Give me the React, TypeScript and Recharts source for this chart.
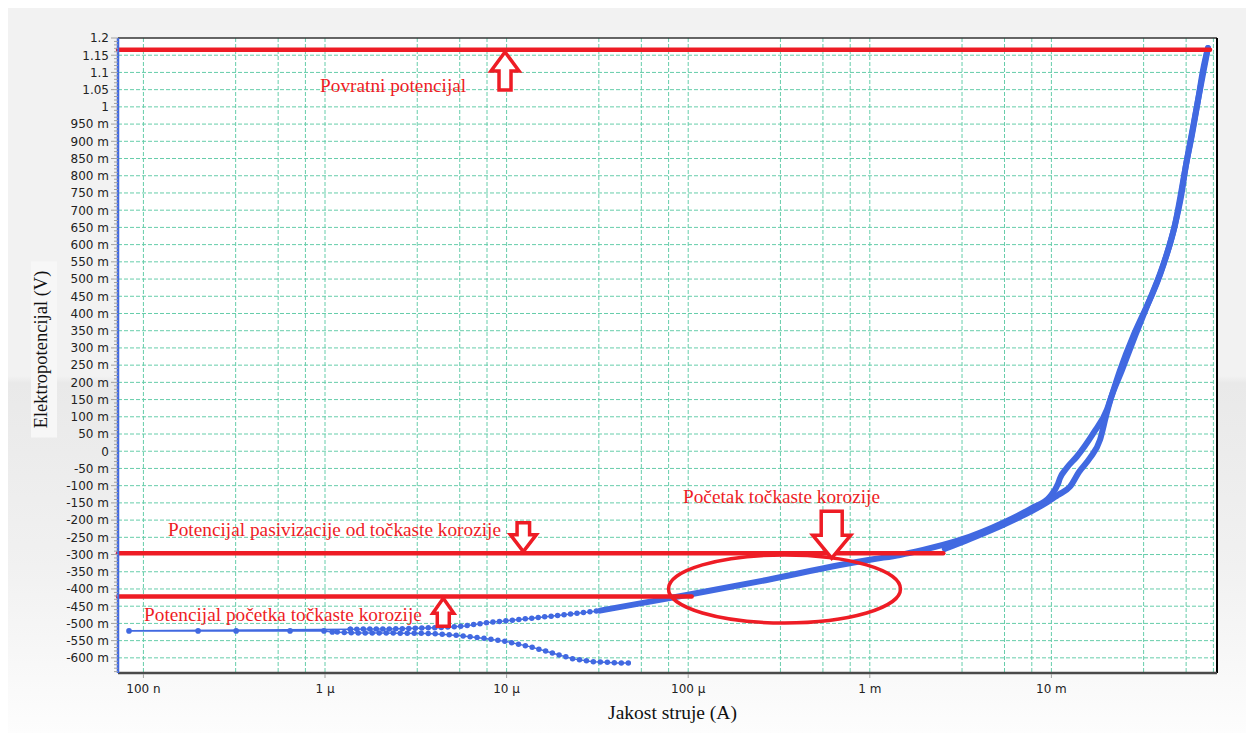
import React from 'react';
import { LineChart, Line, XAxis, YAxis, CartesianGrid, ReferenceLine, ReferenceDot } from 'recharts';

// ---------- axes ----------
const X_MIN = 7.245e-8;
const X_MAX = 8.165e-2;
const Y_MIN = -0.644;
const Y_MAX = 1.2;

const xMajorTicks = [1e-7, 1e-6, 1e-5, 1e-4, 1e-3, 1e-2];
const xTickLabels = ['100 n', '1 µ', '10 µ', '100 µ', '1 m', '10 m'];
const xMinorFactors = [3.22, 5.52, 7.8];

const yMajorTicks = [
  -0.6, -0.55, -0.5, -0.45, -0.4, -0.35, -0.3, -0.25, -0.2, -0.15, -0.1, -0.05, 0,
  0.05, 0.1, 0.15, 0.2, 0.25, 0.3, 0.35, 0.4, 0.45, 0.5, 0.55, 0.6, 0.65, 0.7, 0.75,
  0.8, 0.85, 0.9, 0.95, 1, 1.05, 1.1, 1.15, 1.2,
];
const yTickLabels = [
  '-600 m', '-550 m', '-500 m', '-450 m', '-400 m', '-350 m', '-300 m', '-250 m', '-200 m',
  '-150 m', '-100 m', '-50 m', '0', '50 m', '100 m', '150 m', '200 m', '250 m', '300 m',
  '350 m', '400 m', '450 m', '500 m', '550 m', '600 m', '650 m', '700 m', '750 m', '800 m',
  '850 m', '900 m', '950 m', '1', '1.05', '1.1', '1.15', '1.2',
];

// ---------- series (current A, potential V) ----------
// cathodic branch, scan order (from start potential towards Ecorr)
const cathodicBranch: [number, number][] = [
  [4.68e-5, -0.6148], [4.07e-5, -0.6148], [3.68e-5, -0.6133], [3.27e-5, -0.6118],
  [2.99e-5, -0.611], [2.32e-5, -0.603], [1.8e-5, -0.5866], [1.345e-5, -0.5674],
  [1.0e-5, -0.5529], [7.6e-6, -0.5436], [5.75e-6, -0.5364], [4.58e-6, -0.532],
  [3.64e-6, -0.529], [2.66e-6, -0.5285], [1.885e-6, -0.5276], [1.51e-6, -0.5276],
  [1.097e-6, -0.5247],
];
// points around the corrosion potential (scan continues from the cathodic end to the anodic start)
const ecorrPoints: [number, number][] = [
  [1.097e-6, -0.5247], [9.87e-7, -0.5218], [6.42e-7, -0.5218], [3.24e-7, -0.5218],
  [2.0e-7, -0.5218], [8.33e-8, -0.5218], [1.378e-6, -0.517],
];
// start of anodic branch
const anodicLow: [number, number][] = [
  [1.378e-6, -0.517], [1.79e-6, -0.5163], [2.27e-6, -0.5163], [2.86e-6, -0.5148],
  [3.55e-6, -0.5131], [4.46e-6, -0.5116], [5.9e-6, -0.5073], [7.77e-6, -0.4977],
  [1.185e-5, -0.4884], [1.8e-5, -0.4783], [3.27e-5, -0.4629],
];
// forward anodic scan up to the reverse potential
const forwardScan: [number, number][] = [
  [3.27e-5, -0.4629], [6.16e-5, -0.4368], [9.81e-5, -0.4173], [2.71e-4, -0.3738],
  [6.85e-4, -0.3302], [1.041e-3, -0.3136], [1.466e-3, -0.3012], [1.963e-3, -0.2866],
  [3.14e-3, -0.2576], [5.43e-3, -0.2074], [7.77e-3, -0.1656], [9.82e-3, -0.1319],
  [1.087e-2, -0.095], [1.115e-2, -0.0785], [1.214e-2, -0.0486], [1.378e-2, -0.016],
  [1.7e-2, 0.052], [2.02e-2, 0.12], [2.1e-2, 0.146], [2.39e-2, 0.236], [2.81e-2, 0.332],
  [3.28e-2, 0.41], [3.58e-2, 0.454], [3.96e-2, 0.512], [4.39e-2, 0.584], [4.79e-2, 0.657],
  [5.17e-2, 0.738], [5.51e-2, 0.831], [5.94e-2, 0.918], [6.42e-2, 1.02], [6.84e-2, 1.107],
  [7.28e-2, 1.171],
];
// reverse scan
const reverseScan: [number, number][] = [
  [7.28e-2, 1.171], [6.42e-2, 1.02], [5.51e-2, 0.831], [4.79e-2, 0.657], [4.07e-2, 0.532],
  [3.4e-2, 0.4276], [2.89e-2, 0.3347], [2.45e-2, 0.236], [2.1e-2, 0.144], [2.0e-2, 0.1024],
  [1.852e-2, 0.0328], [1.632e-2, -0.0195], [1.419e-2, -0.0602], [1.266e-2, -0.1029],
  [1.087e-2, -0.1269], [9.34e-3, -0.1502], [7.62e-3, -0.1763], [5.41e-3, -0.2141],
  [3.56e-3, -0.2547], [2.59e-3, -0.2837],
];

// ---------- annotations ----------
const redLines = [
  { x1: X_MIN, x2: 7.47e-2, y: 1.166 },
  { x1: X_MIN, x2: 2.54e-3, y: -0.2962 },
  { x1: X_MIN, x2: 1.045e-4, y: -0.4222 },
];
const arrows = [
  { x: 9.8e-6, y: 1.1593, dir: 'up', headW: 28, headH: 19, shaftW: 12, len: 38 },
  { x: 1.236e-5, y: -0.2916, dir: 'down', headW: 26, headH: 17, shaftW: 12.5, len: 29 },
  { x: 6.17e-4, y: -0.3107, dir: 'down', headW: 38, headH: 23, shaftW: 21, len: 47 },
  { x: 4.48e-6, y: -0.4269, dir: 'up', headW: 21, headH: 15, shaftW: 12, len: 28 },
];
const ellipseCenter = { x: 3.39e-4, y: -0.4 };
const notes = [
  { x: 9.39e-7, y: 1.0432, text: 'Povratni potencijal' },
  { x: 1.366e-7, y: -0.246, text: 'Potencijal pasivizacije od točkaste korozije' },
  { x: 9.36e-5, y: -0.1493, text: 'Početak točkaste korozije' },
  { x: 1.008e-7, y: -0.492, text: 'Potencijal početka točkaste korozije' },
];

// ---------- helpers ----------
const toRows = (arr: [number, number][]) => arr.map(([i, v]) => ({ i, v }));
const BLUE = '#4169e1';
const RED = '#ee1c25';
const GRID = '#66cdaa';
const SERIF = 'Liberation Serif, Times New Roman, serif';
const SANS = 'DejaVu Sans, Verdana, sans-serif';

const xGridValues: number[] = [];
xMajorTicks.forEach((m) => {
  xGridValues.push(m);
  xMinorFactors.forEach((f) => {
    const v = m * f;
    if (v < X_MAX) xGridValues.push(v);
  });
});
const yGridValues = yMajorTicks.filter((v) => v < Y_MAX);
const yAllTicks: number[] = [];
for (let k = -64; k <= 120; k++) yAllTicks.push(k / 100);
const yLabelFor = (v: number) => {
  const idx = yMajorTicks.findIndex((m) => Math.abs(m - v) < 1e-6);
  return idx >= 0 ? yTickLabels[idx] : null;
};

const YTick = (props: any) => {
  const { x, y, payload } = props;
  const label = yLabelFor(payload.value);
  return (
    <g>
      <line x1={x - (label ? 7 : 4)} x2={x} y1={y} y2={y} stroke="#a0a0a0" strokeWidth={1} />
      {label && (
        <text x={x - 9} y={y} dy="0.36em" textAnchor="end" fontSize={12}
          fontFamily={SANS} fill="#222">{label}</text>
      )}
    </g>
  );
};
const XTick = (props: any) => {
  const { x, y, payload } = props;
  const idx = xMajorTicks.findIndex((m) => Math.abs(m - payload.value) / m < 1e-6);
  return (
    <g>
      <line x1={x} x2={x} y1={y + 1} y2={y + 5} stroke="#a0a0a0" strokeWidth={1} />
      <text x={x} y={y + 20} textAnchor="middle" fontSize={12}
        fontFamily={SANS} fill="#222">{xTickLabels[idx]}</text>
    </g>
  );
};

const arrowShape = (a: typeof arrows[number]) => (p: any) => {
  const { cx, cy } = p;
  const s = a.dir === 'up' ? 1 : -1;
  const hb = cy + s * a.headH;
  const end = cy + s * a.len;
  const pts = [
    [cx, cy], [cx + a.headW / 2, hb], [cx + a.shaftW / 2, hb], [cx + a.shaftW / 2, end],
    [cx - a.shaftW / 2, end], [cx - a.shaftW / 2, hb], [cx - a.headW / 2, hb],
  ].map((q) => q.join(',')).join(' ');
  return <polygon points={pts} fill="#fff" stroke={RED} strokeWidth={3.5} strokeLinejoin="miter" />;
};

export default function App() {
  return (
    <div style={{
      width: 1246, height: 725,
      background: 'linear-gradient(#f2f2f2 0px, #f2f2f2 368px, #e9e9e9 375px, #f1f1f1 560px, #fdfdfd 725px)',
    }}>
      <LineChart width={1246} height={725} margin={{ top: 30, right: 37, bottom: 30, left: 50 }}>
        <CartesianGrid
          fill="#ffffff"
          stroke={GRID}
          strokeDasharray="4 2"
          horizontalValues={yGridValues}
          verticalValues={xGridValues}
        />
        <XAxis
          dataKey="i" type="number" scale="log" domain={[X_MIN, X_MAX]} allowDataOverflow
          ticks={xMajorTicks} interval={0} tickSize={0} tickMargin={0} height={30}
          tick={<XTick />} axisLine={{ stroke: '#4a4a4a', strokeWidth: 2.5 }} tickLine={false}
          label={{
            content: (lp: any) => {
              const vb = lp.viewBox;
              return (
                <text x={vb.x + vb.width / 2 + 5} y={vb.y + 46} textAnchor="middle" fontSize={19.5}
                  fontFamily={SERIF} fill="#111">Jakost struje (A)</text>
              );
            },
          }}
        />
        <YAxis
          dataKey="v" type="number" domain={[Y_MIN, Y_MAX]} allowDataOverflow width={60}
          ticks={yAllTicks} interval={0} tickSize={0} tickMargin={0}
          tick={<YTick />} axisLine={{ stroke: BLUE, strokeWidth: 2.5 }} tickLine={false}
          label={{
            content: (lp: any) => {
              const vb = lp.viewBox;
              const cx = vb.x - 11;
              const cy = vb.y + vb.height / 2 - 6;
              return (
                <g>
                  <rect x={cx - 16} y={cy - 88} width={26} height={176} fill="#f7f7f7" />
                  <text x={cx} y={cy} transform={`rotate(-90 ${cx} ${cy})`} textAnchor="middle"
                    fontSize={18.5} fontFamily={SERIF} fill="#111">
                    Elektropotencijal (V)
                  </text>
                </g>
              );
            },
          }}
        />

        <ReferenceLine y={Y_MAX} stroke="#333" strokeWidth={1.5} />
        <ReferenceLine x={X_MAX} stroke="#000" strokeWidth={2} />

        <Line name="ecorr" data={toRows(ecorrPoints)} dataKey="v" stroke={BLUE} strokeWidth={1.6}
          dot={{ r: 2.8, fill: BLUE, stroke: BLUE, strokeWidth: 0 }} isAnimationActive={false} />
        <Line name="cathodic-line" data={toRows(cathodicBranch)} dataKey="v" stroke={BLUE} strokeWidth={1.5}
          dot={false} isAnimationActive={false} />
        <Line name="cathodic-dots" data={toRows(cathodicBranch)} dataKey="v" stroke={BLUE} strokeWidth={5.5}
          strokeDasharray="0 7" strokeLinecap="round" dot={false} isAnimationActive={false} />
        <Line name="anodic-line" data={toRows(anodicLow)} dataKey="v" stroke={BLUE} strokeWidth={1.5}
          dot={false} isAnimationActive={false} />
        <Line name="anodic-dots" data={toRows(anodicLow)} dataKey="v" stroke={BLUE} strokeWidth={5.5}
          strokeDasharray="0 6.5" strokeLinecap="round" dot={false} isAnimationActive={false} />
        <Line name="forward" type="monotone" data={toRows(forwardScan)} dataKey="v" stroke={BLUE} strokeWidth={6}
          strokeLinecap="round" strokeLinejoin="round" dot={false} isAnimationActive={false} />
        <Line name="reverse" type="monotone" data={toRows(reverseScan)} dataKey="v" stroke={BLUE} strokeWidth={6}
          strokeLinecap="round" strokeLinejoin="round" dot={false} isAnimationActive={false} />

        {redLines.map((l, k) => (
          <ReferenceLine key={'rl' + k} segment={[{ x: l.x1, y: l.y }, { x: l.x2, y: l.y }]}
            stroke={RED} strokeWidth={4.5} strokeLinecap="round" />
        ))}
        <ReferenceDot x={ellipseCenter.x} y={ellipseCenter.y} r={1}
          shape={(p: any) => (
            <ellipse cx={p.cx} cy={p.cy} rx={116} ry={34} fill="none" stroke={RED} strokeWidth={3.5} />
          )} />
        {arrows.map((a, k) => (
          <ReferenceDot key={'ar' + k} x={a.x} y={a.y} r={1} shape={arrowShape(a)} />
        ))}
        {notes.map((n, k) => (
          <ReferenceDot key={'nt' + k} x={n.x} y={n.y} r={1}
            shape={(p: any) => (
              <text x={p.cx} y={p.cy} fontSize={19.3} fill={RED} fontFamily={SERIF}>{n.text}</text>
            )} />
        ))}
      </LineChart>
    </div>
  );
}
